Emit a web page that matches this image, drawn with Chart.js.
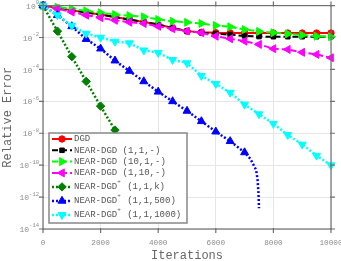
<!DOCTYPE html>
<html>
<head>
<meta charset="utf-8">
<script src="https://cdn.jsdelivr.net/npm/chart.js@4.4.1/dist/chart.umd.min.js"></script>
<style>
  body { margin: 0; background: #fff; }
  #wrap { width: 341px; height: 261px; position: relative; }
</style>
</head>
<body>
<div id="wrap"><canvas id="err"></canvas></div>
<script>
// iterations where values were read (every 500)
const iters = [0, 500, 1000, 1500, 2000, 2500, 3000, 3500, 4000, 4500, 5000,
  5500, 6000, 6500, 7000, 7500, 8000, 8500, 9000, 9500, 10000];
const itersK = [0, 500, 1000, 1500, 2000, 2500, 3000, 3500, 4000];
const iters500 = [0, 500, 1000, 1500, 2000, 2500, 3000, 3500, 4000, 4500, 5000,
  5500, 6000, 6500, 7000, 7200, 7400, 7450, 7480, 7500];

// log10 of relative error
const dgd = [0, -0.15, -0.3, -0.43, -0.56, -0.72, -0.87, -1.03, -1.19, -1.4, -1.6,
  -1.67, -1.7, -1.71, -1.72, -1.72, -1.72, -1.72, -1.72, -1.72, -1.72];
const near11 = [0, -0.15, -0.3, -0.43, -0.56, -0.72, -0.87, -1.03, -1.19, -1.4, -1.6,
  -1.7, -1.76, -1.82, -1.9, -1.94, -1.95, -1.95, -1.95, -1.95, -1.95];
const near101 = [0, -0.1, -0.2, -0.33, -0.45, -0.56, -0.63, -0.7, -0.87, -0.98, -1.05,
  -1.12, -1.25, -1.33, -1.5, -1.62, -1.7, -1.77, -1.85, -1.92, -1.95];
const near110 = [0, -0.2, -0.4, -0.6, -0.76, -0.92, -1.04, -1.12, -1.3, -1.45, -1.6,
  -1.7, -1.92, -2.08, -2.23, -2.43, -2.7, -2.75, -2.93, -3.06, -3.27];
const plusK = [0, -1.6, -3.2, -4.75, -6.3, -7.8, -9.35, -10.9, -12.45];
const plus500 = [0, -0.6, -1.3, -2.1, -2.7, -3.45, -4.1, -4.75, -5.4, -6.0, -6.6,
  -7.25, -7.9, -8.5, -9.2, -9.6, -10.3, -10.9, -11.7, -12.7];
const plus1000 = [0, -0.6, -1.25, -1.75, -2.0, -2.25, -2.35, -2.8, -2.95, -3.4, -3.6,
  -4.4, -4.9, -5.45, -6.2, -6.8, -7.4, -8.1, -8.7, -9.4, -10];

const labels = ['DGD', 'NEAR-DGD (1,1,-)', 'NEAR-DGD (10,1,-)', 'NEAR-DGD (1,10,-)',
  'NEAR-DGD⁺ (1,1,k)', 'NEAR-DGD⁺ (1,1,500)', 'NEAR-DGD⁺ (1,1,1000)'];
const yExps = [0, -2, -4, -6, -8, -10, -12, -14];
const xTicks = [0, 2000, 4000, 6000, 8000, 10000];

const MONO = '"Liberation Mono", "DejaVu Sans Mono", monospace';

const pts = (xs, ys) => xs.map((x, i) => ({ x: x, y: Math.pow(10, ys[i]) }));

const mk = (i, xs, ys, color, style, rot, r, dash, width) => ({
  label: labels[i],
  data: pts(xs, ys),
  borderColor: color,
  backgroundColor: color,
  borderWidth: width,
  borderDash: dash,
  pointStyle: style,
  rotation: rot,
  pointRadius: xs.map(x => (x % 500 === 0 && !(xs === iters500 && x > 7000)) ? r : 0),
  pointBorderWidth: 1,
  pointHoverRadius: 0,
  order: 6 - i,
  clip: false,
  tension: 0
});

const datasets = [
  mk(0, iters, dgd, '#ff0000', 'circle', 0, 3.2, [], 2),
  mk(1, iters, near11, '#000000', 'rect', 0, 3.2, [6, 3], 2),
  mk(2, iters, near101, '#00ff00', 'triangle', 90, 4.6, [6, 3], 2),
  mk(3, iters, near110, '#ff00ff', 'triangle', -90, 4.6, [6, 3], 2),
  mk(4, itersK, plusK, '#008000', 'rectRot', 0, 4.2, [2, 2], 2.5),
  mk(5, iters500, plus500, '#0000ff', 'triangle', 0, 4.6, [2, 2], 2.5),
  mk(6, iters, plus1000, '#00ffff', 'triangle', 180, 4.6, [2, 2], 2.5)
];

const frame = {
  id: 'frame',
  afterDatasetsDraw(chart) {
    const { ctx, chartArea: a, scales } = chart;
    ctx.save();
    ctx.strokeStyle = '#707070';
    ctx.lineWidth = 1.2;
    ctx.strokeRect(a.left, a.top, a.right - a.left, a.bottom - a.top);
    ctx.beginPath();
    xTicks.forEach(v => {
      const x = scales.x.getPixelForValue(v);
      ctx.moveTo(x, a.bottom - 1); ctx.lineTo(x, a.bottom + 4);
      ctx.moveTo(x, a.top + 1); ctx.lineTo(x, a.top - 4);
    });
    yExps.forEach(e => {
      const y = scales.y.getPixelForValue(Math.pow(10, e));
      ctx.moveTo(a.left + 1, y); ctx.lineTo(a.left - 4, y);
      ctx.moveTo(a.right - 1, y); ctx.lineTo(a.right + 4, y);
    });
    ctx.stroke();

    // y tick labels with superscript exponents
    ctx.fillStyle = '#8c8c8c';
    ctx.textBaseline = 'middle';
    yExps.forEach(e => {
      const y = scales.y.getPixelForValue(Math.pow(10, e));
      const sup = String(e);
      ctx.font = '5.5px ' + MONO;
      const w = ctx.measureText(sup).width;
      const xEnd = a.left - 4;
      ctx.textAlign = 'left';
      ctx.fillText(sup, xEnd - w, y - 3);
      ctx.font = '8px ' + MONO;
      ctx.textAlign = 'right';
      ctx.fillText('10', xEnd - w, y + 1);
    });
    ctx.restore();
  },
  afterDraw(chart) {
    const { ctx } = chart;
    const box = { l: 49, t: 133, r: 187, b: 223 };
    ctx.save();
    ctx.fillStyle = '#fff';
    ctx.fillRect(box.l, box.t, box.r - box.l, box.b - box.t);
    ctx.strokeStyle = '#888';
    ctx.lineWidth = 1.5;
    ctx.strokeRect(box.l, box.t, box.r - box.l, box.b - box.t);
    let y = 139;
    chart.data.datasets.forEach((ds, i) => {
      const hasSup = ds.label.indexOf('⁺') >= 0;
      if (i > 0) y += hasSup ? 14 : 11.3;
      ctx.strokeStyle = ds.borderColor;
      ctx.lineWidth = ds.borderWidth;
      ctx.setLineDash(ds.borderDash);
      ctx.beginPath();
      ctx.moveTo(52, y); ctx.lineTo(72, y);
      ctx.stroke();
      ctx.setLineDash([]);
      ctx.fillStyle = ds.borderColor;
      ctx.lineWidth = 1;
      Chart.helpers.drawPoint(ctx, {
        pointStyle: ds.pointStyle, rotation: ds.rotation,
        radius: ds.pointRadius.find(r => r > 0), borderWidth: 1
      }, 62, y);
      ctx.fillStyle = '#555';
      ctx.textBaseline = 'middle';
      ctx.textAlign = 'left';
      const parts = ds.label.split('⁺');
      ctx.font = '9px ' + MONO;
      let x = 74;
      ctx.fillText(parts[0], x, y);
      if (parts.length > 1) {
        x += ctx.measureText(parts[0]).width;
        ctx.font = '6px ' + MONO;
        ctx.fillText('+', x, y - 5);
        x += ctx.measureText('+').width + 1;
        ctx.font = '9px ' + MONO;
        ctx.fillText(parts[1], x, y);
      }
    });
    ctx.restore();
  }
};

new Chart(document.getElementById('err'), {
  type: 'line',
  data: { datasets: datasets },
  options: {
    responsive: true,
    maintainAspectRatio: false,
    animation: false,
    devicePixelRatio: 1,
    layout: { padding: { top: 5, right: 10, left: 0, bottom: 0 } },
    plugins: { legend: { display: false }, tooltip: { enabled: false } },
    scales: {
      x: {
        type: 'linear',
        min: 0,
        max: 10000,
        afterBuildTicks: s => { s.ticks = xTicks.map(v => ({ value: v })); },
        afterFit: s => { s.height = 32; s.paddingLeft = 0; s.paddingRight = 0; },
        ticks: {
          color: '#8c8c8c',
          font: { family: MONO, size: 7.7 },
          padding: 9,
          maxRotation: 0,
          callback: v => String(v)
        },
        grid: { color: '#e6e6e6', drawTicks: false },
        border: { display: false },
        title: {
          display: true,
          text: 'Iterations',
          color: '#666',
          font: { family: MONO, size: 12 },
          padding: { top: 0, bottom: -2 }
        }
      },
      y: {
        type: 'logarithmic',
        min: 1e-14,
        max: 1,
        afterBuildTicks: s => { s.ticks = yExps.map(e => ({ value: Math.pow(10, e) })); },
        afterFit: s => { s.width = 43; s.paddingTop = 0; s.paddingBottom = 0; },
        ticks: { display: false },
        grid: { color: '#e6e6e6', drawTicks: false },
        border: { display: false },
        title: {
          display: true,
          text: 'Relative Error',
          color: '#666',
          font: { family: MONO, size: 12 },
          padding: { top: 1, bottom: 0 }
        }
      }
    }
  },
  plugins: [frame]
});
</script>
</body>
</html>
